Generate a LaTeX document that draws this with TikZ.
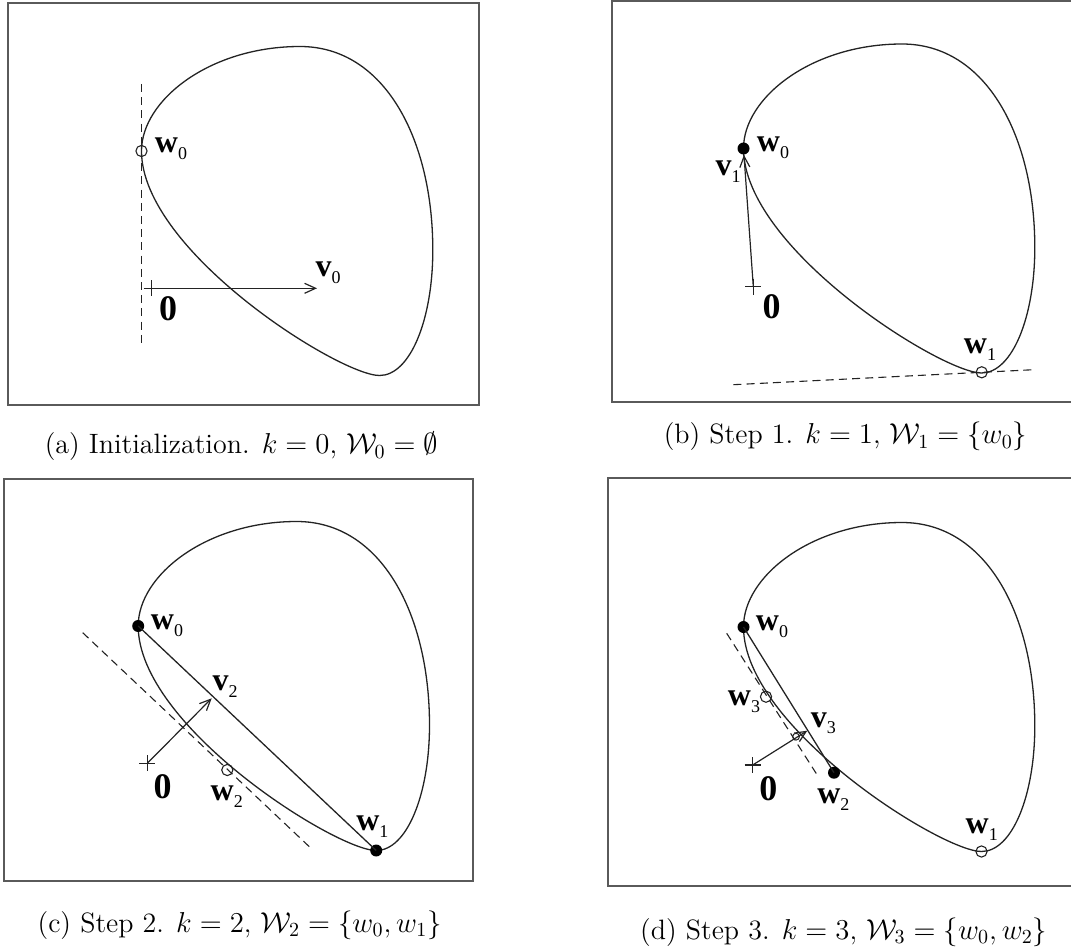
\documentclass[tikz,border=0pt]{standalone}
\usepackage{amsmath}
\usepackage{fontspec}
\newfontfamily\figfont{Liberation Serif}
\usetikzlibrary{arrows.meta, positioning}
\definecolor{myframe}{RGB}{90,90,90}
\definecolor{mycurve}{RGB}{35,35,35}
\tikzset{
  frame/.style={draw=myframe, line width=1pt},
  curve/.style={draw=mycurve, line width=0.65pt},
  tangent/.style={draw=mycurve, line width=0.55pt, dash pattern=on 4pt off 2.6pt},
  chord/.style={draw=mycurve, line width=0.65pt},
  vec/.style={-{Straight Barb[length=5.5pt,width=5pt]}, draw=mycurve, line width=0.6pt},
  opendot/.style={circle, draw=mycurve, line width=0.55pt, minimum size=5.6pt, inner sep=0pt},
  fulldot/.style={circle, fill=black, minimum size=6pt, inner sep=0pt},
  tinydot/.style={circle, draw=mycurve, line width=0.5pt, minimum size=3.4pt, inner sep=0pt},
  lbl/.style={font=\figfont\fontsize{16}{17}\selectfont\bfseries, inner sep=0pt},
  zero/.style={font=\figfont\fontsize{18}{19}\selectfont\bfseries, inner sep=0pt},
  capt/.style={font=\fontsize{14}{16}\selectfont, inner sep=0pt}
}
% bold vector label with a plain subscript
\newcommand{\vlab}[2]{#1\raisebox{-3.4pt}{\mdseries\fontsize{9}{10}\selectfont #2}}
% the convex set, in panel (a) coordinates
\newcommand{\drawegg}{\draw[curve] (141.5,151) .. controls (141.5,100) and (210,46.5) .. (300,46.5)
  .. controls (385,46.5) and (432.8,140) .. (432.8,250)
  .. controls (432.8,320) and (410,375.5) .. (379.5,375.5)
  .. controls (339.5,375.5) and (141.5,251) .. (141.5,151) -- cycle;}
% origin cross
\newcommand{\origin}[1]{\draw[curve] (#1) +(-8,0) -- +(8,0) (#1) +(0,-8) -- +(0,8);}

\begin{document}
\begin{tikzpicture}[x=0.5pt, y=-0.5pt]
  \useasboundingbox (0,0) rectangle (1071,947);

  % (a) Initialization
  \draw[frame] (7.6,3.3) rectangle (478.6,405);
  \drawegg
  \coordinate (ao) at (151.7,288.3);
  \coordinate (atop) at (141.5,84);
  \coordinate (abot) at (141.5,343);
  \coordinate (av0) at (317,288.3);
  \node[opendot] (aw0) at (141.5,151) {};
  \draw[tangent] (atop) -- (abot);
  \draw[vec] (ao) -- (av0);
  \origin{ao}
  \node[lbl] at (171,149) {\vlab{w}{0}};
  \node[lbl] at (328,273) {\vlab{v}{0}};
  \node[zero] at (168,309) {0};
  \node[capt] (capa) at (241.4,446.7) {(a) Initialization. $k=0$, $\mathcal{W}_0=\emptyset$};

  % (b) Step 1
  \draw[frame] (611.7,0.7) rectangle (1085,402);
  \begin{scope}[shift={(602,-2.5)}]
    \drawegg
    \coordinate (bo) at (151.3,289.2);
    \node[fulldot] (bw0) at (141.5,151) {};
    \node[opendot] (bw1) at (379.7,374.8) {};
    \coordinate (bl) at (131.4,387.2);
    \coordinate (br) at (429.7,372.3);
    \draw[tangent] (bl) -- (br);
    \draw[vec] (bo) -- (bw0);
    \origin{bo}
  \end{scope}
  \node[lbl] at (773,148) {\vlab{w}{0}};
  \node[lbl] at (728,171.7) {\vlab{v}{1}};
  \node[zero] at (771.7,307) {0};
  \node[lbl] at (980,349.3) {\vlab{w}{1}};
  \node[capt] (capb) at (845.5,436.7) {(b) Step 1. $k=1$, $\mathcal{W}_1=\{w_0\}$};

  % (c) Step 2
  \draw[frame] (4.1,479) rectangle (473.4,880.7);
  \begin{scope}[shift={(-3.3,475)}]
    \drawegg
    \coordinate (co) at (150.6,288.3);
    \coordinate (cv2) at (215,223.3);
    \coordinate (ctl) at (86,157.7);
    \coordinate (ctr) at (314,373);
    \node[fulldot] (cw0) at (141.5,151) {};
    \node[fulldot] (cw1) at (379.5,375.5) {};
    \node[opendot] (cw2) at (230.6,295) {};
    \draw[tangent] (ctl) -- (ctr);
    \draw[chord] (cw0.center) -- (cw1.center);
    \draw[vec] (co) -- (cv2);
    \origin{co}
  \end{scope}
  \node[lbl] at (167,626) {\vlab{w}{0}};
  \node[lbl] at (225,687) {\vlab{v}{2}};
  \node[zero] at (162.7,787) {0};
  \node[lbl] at (226.7,797) {\vlab{w}{2}};
  \node[lbl] at (372.4,826.7) {\vlab{w}{1}};
  \node[capt] (capc) at (239.7,925) {(c) Step 2. $k=2$, $\mathcal{W}_2=\{w_0,w_1\}$};

  % (d) Step 3
  \draw[frame] (608.3,478.3) rectangle (1085,885.7);
  \begin{scope}[shift={(602,476)}]
    \drawegg
    \coordinate (do) at (150.7,289);
    \coordinate (dv3) at (205.3,254.7);
    \coordinate (dtl) at (124.7,157.3);
    \coordinate (dtr) at (216.3,300.7);
    \node[fulldot] (dw0) at (141.5,151) {};
    \node[fulldot] (dw2) at (232,296.7) {};
    \node[opendot] (dw1) at (379.5,375.5) {};
    \node[opendot] (dw3) at (164,220.7) {};
    \node[tinydot] (dx) at (194,260.7) {};
    \draw[tangent] (dtl) -- (dtr);
    \draw[chord] (dw0.center) -- (dw2.center);
    \draw[vec] (do) -- (dv3);
    \origin{do}
  \end{scope}
  \node[lbl] at (772,626.7) {\vlab{w}{0}};
  \node[lbl] at (744,701.7) {\vlab{w}{3}};
  \node[lbl] at (823.3,723.3) {\vlab{v}{3}};
  \node[zero] at (768.3,788.5) {0};
  \node[lbl] at (833.4,800) {\vlab{w}{2}};
  \node[lbl] at (981.7,830) {\vlab{w}{1}};
  \node[capt] (capd) at (843.8,932) {(d) Step 3. $k=3$, $\mathcal{W}_3=\{w_0,w_2\}$};
\end{tikzpicture}
\end{document}
